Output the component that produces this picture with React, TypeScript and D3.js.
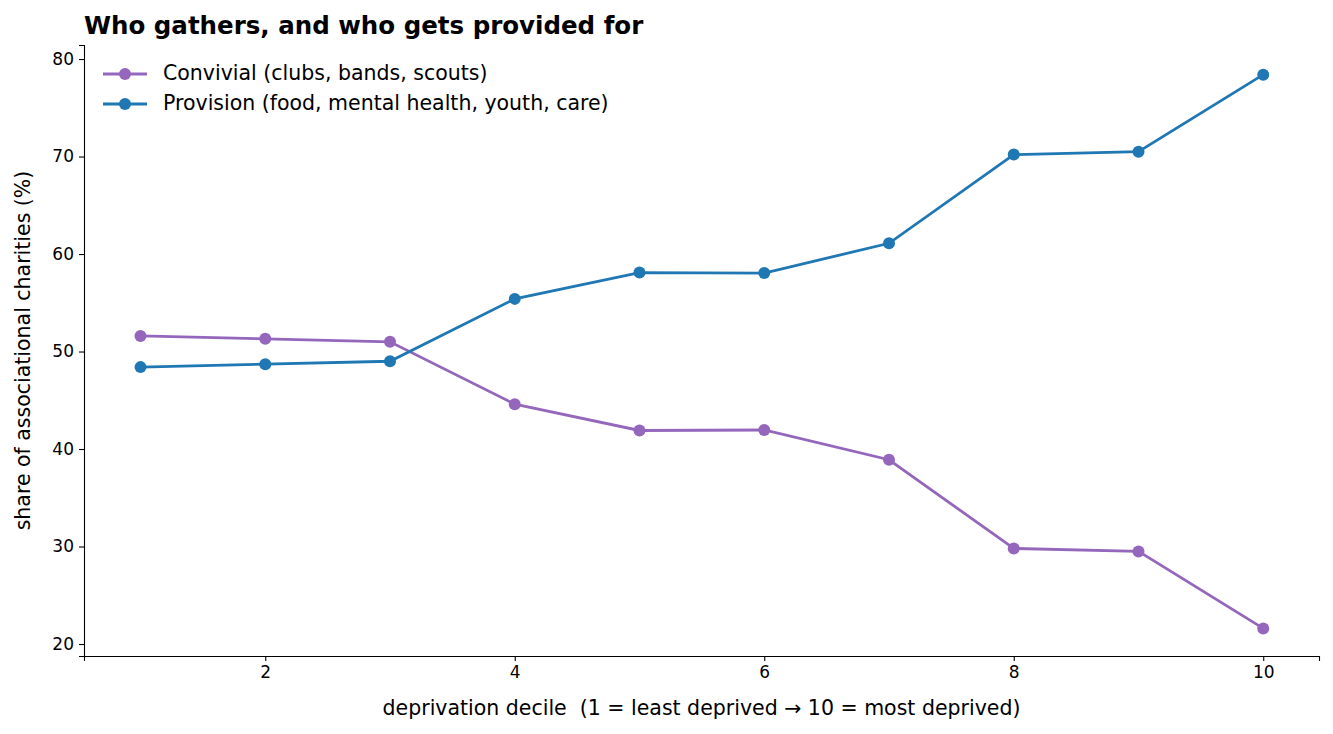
import React, { useEffect, useRef } from 'react';
import * as d3 from 'd3';

const deciles = [1, 2, 3, 4, 5, 6, 7, 8, 9, 10];
const convivial = [51.6, 51.3, 51.0, 44.6, 41.9, 41.95, 38.9, 29.8, 29.5, 21.6];
const provision = [48.4, 48.7, 49.0, 55.4, 58.1, 58.05, 61.1, 70.2, 70.5, 78.4];
const xTicks = [2, 4, 6, 8, 10];
const yTicks = [20, 30, 40, 50, 60, 70, 80];
const seriesNames = ['Convivial (clubs, bands, scouts)', 'Provision (food, mental health, youth, care)'];
const seriesColors = ['#9467bd', '#1f77b4'];

export default function App() {
  const svgRef = useRef<SVGSVGElement>(null);

  useEffect(() => {
    document.body.style.margin = '0';
    if (!svgRef.current) return;
    const width = 1333, height = 734;
    const m = { left: 84, right: 14, top: 45, bottom: 78 };
    const svg = d3.select(svgRef.current);
    svg.selectAll('*').remove();
    svg.style('font-family', 'DejaVu Sans');

    const x = d3.scaleLinear().domain([0.547, 10.447]).range([m.left, width - m.right]);
    const y = d3.scaleLinear().domain([18.77, 81.44]).range([height - m.bottom, m.top]);

    const gx = svg.append('g').attr('transform', `translate(0,${height - m.bottom})`)
      .call(d3.axisBottom(x).tickValues(xTicks).tickSizeOuter(0).tickSize(5).tickPadding(5));
    const gy = svg.append('g').attr('transform', `translate(${m.left},0)`)
      .call(d3.axisLeft(y).tickValues(yTicks).tickSizeOuter(0).tickSize(5).tickPadding(5));
    [gx, gy].forEach(g => {
      g.attr('font-size', 17).attr('font-family', 'DejaVu Sans');
      g.selectAll('text').attr('fill', '#000');
      g.selectAll('line,path').attr('stroke', '#000').attr('stroke-width', 1.1);
    });

    const line = d3.line<number>().x((_, i) => x(deciles[i])).y(d => y(d));
    [convivial, provision].forEach((vals, k) => {
      svg.append('path').datum(vals).attr('d', line).attr('fill', 'none')
        .attr('stroke', seriesColors[k]).attr('stroke-width', 2.8);
      svg.append('g').selectAll('circle').data(vals).join('circle')
        .attr('cx', (_, i) => x(deciles[i])).attr('cy', d => y(d)).attr('r', 6)
        .attr('fill', seriesColors[k]);
    });

    // legend
    seriesNames.forEach((name, k) => {
      const ly = 74 + k * 30;
      svg.append('line').attr('x1', 103).attr('x2', 147).attr('y1', ly).attr('y2', ly)
        .attr('stroke', seriesColors[k]).attr('stroke-width', 2.8);
      svg.append('circle').attr('cx', 125).attr('cy', ly).attr('r', 6).attr('fill', seriesColors[k]);
      svg.append('text').attr('x', 163).attr('y', ly + 6).attr('font-size', 20.5).text(name);
    });

    svg.append('text').attr('x', 84).attr('y', 34).attr('font-size', 24.5).attr('font-weight', 'bold')
      .text('Who gathers, and who gets provided for');
    svg.append('text').attr('x', (m.left + width - m.right) / 2).attr('y', 715).attr('text-anchor', 'middle')
      .attr('font-size', 20.5).style('white-space', 'pre')
      .text('deprivation decile  (1 = least deprived → 10 = most deprived)');
    svg.append('text').attr('transform', `translate(30,${(m.top + height - m.bottom) / 2}) rotate(-90)`)
      .attr('text-anchor', 'middle').attr('font-size', 20.5).text('share of associational charities (%)');
  }, []);

  return <svg ref={svgRef} width={1333} height={734} style={{ display: 'block', background: '#fff' }} />;
}
